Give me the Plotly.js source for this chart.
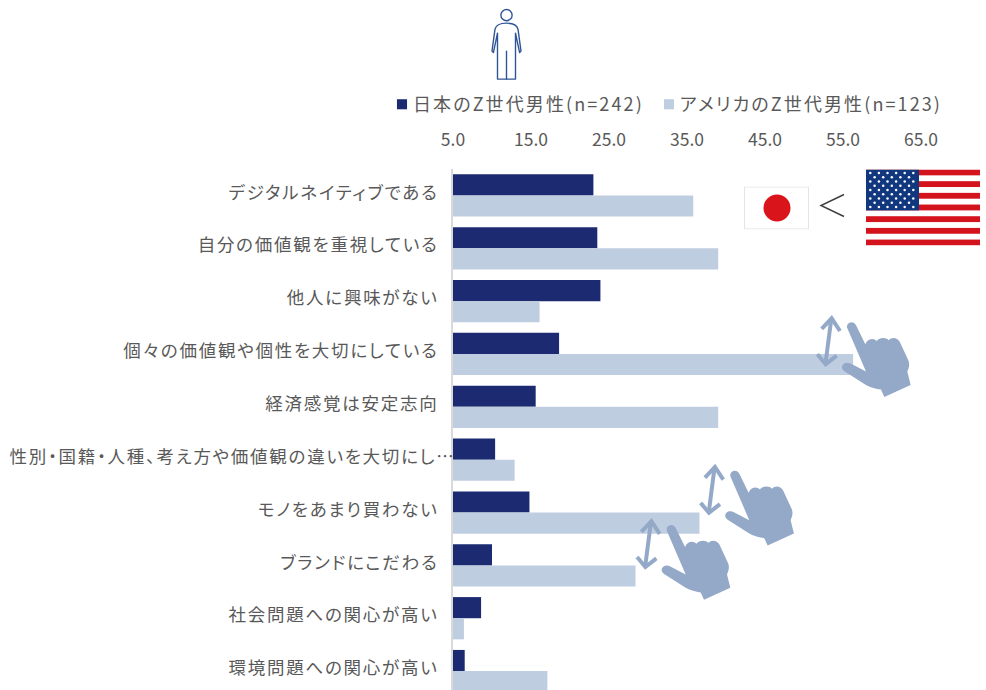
<!DOCTYPE html>
<html lang="ja">
<head>
<meta charset="utf-8">
<script src="https://cdn.plot.ly/plotly-3.0.1.min.js"></script>
<style>
  html, body { margin: 0; padding: 0; background: #fff; }
  #chart { width: 986px; height: 690px; }
  #chart .ytick text { letter-spacing: 1.75px; font-feature-settings: "palt"; }
  #chart .legendtext { letter-spacing: 2.1px; font-feature-settings: "palt"; }
  #chart .legendpoints path { transform: translate(29px, 0) scale(.84); stroke-width: 0 !important; }
  #chart .legend .scrollbox { clip-path: none; }
</style>
</head>
<body>
<div id="chart"></div>
<script>
// 項目と系列の値(%)
const categories = [
  'デジタルネイティブである',
  '自分の価値観を重視している',
  '他人に興味がない',
  '個々の価値観や個性を大切にしている',
  '経済感覚は安定志向',
  '性別・国籍・人種、考え方や価値観の違いを大切にし…',
  'モノをあまり買わない',
  'ブランドにこだわる',
  '社会問題への関心が高い',
  '環境問題への関心が高い'
];
const japanValues = [23.0, 23.5, 23.9, 18.6, 15.6, 10.4, 14.8, 10.0, 8.6, 6.5];
const usaValues   = [35.8, 39.0, 16.1, 56.3, 39.0, 12.9, 36.6, 28.4, 6.4, 17.1];
const japanName = '日本のZ世代男性(n=242)';
const usaName   = 'アメリカのZ世代男性(n=123)';

const W = 986, H = 690;
const M = { l: 453, r: 65, t: 168.5, b: 0 };
const plotW = W - M.l - M.r, plotH = H - M.t - M.b;
const px = x => (x - M.l) / plotW;
const py = y => (H - M.b - y) / plotH;
const uri = s => 'data:image/svg+xml;charset=utf-8,' + encodeURIComponent(s);

// 左上とサイズをピクセルで指定して装飾画像を置く
function place(svg, left, top, w, h) {
  return { source: uri(svg), xref: 'paper', yref: 'paper', x: px(left), y: py(top),
           sizex: w / plotW, sizey: h / plotH, xanchor: 'left', yanchor: 'top',
           sizing: 'stretch', layer: 'above' };
}

// 人物アイコン
const personSvg = `<svg xmlns="http://www.w3.org/2000/svg" viewBox="0 0 33 73" width="33" height="73">
  <g fill="none" stroke="#2f5597" stroke-width="1.4" stroke-linejoin="round" stroke-linecap="round">
    <circle cx="16.5" cy="7" r="5.6"/>
    <path d="M16.5 15 C11 15 6 17 5 21 L2 43 L3.4 44.5 L7.5 25 V71 H25.5 V25 L29.6 44.5 L31 43 L28 21 C27 17 22 15 16.5 15"/>
    <path d="M16.5 43 V71"/>
  </g></svg>`;

// 日の丸
const japanFlagSvg = `<svg xmlns="http://www.w3.org/2000/svg" viewBox="0 0 65 43" width="65" height="43">
  <rect x=".5" y=".5" width="64" height="42" fill="#fff" stroke="#e4e4e4"/>
  <circle cx="33" cy="21.5" r="13.5" fill="#d9141a"/></svg>`;

// 不等号
const lessThanSvg = `<svg xmlns="http://www.w3.org/2000/svg" viewBox="0 0 28 28" width="28" height="28">
  <path d="M26 3 L3 14 L26 25" fill="none" stroke="#404040" stroke-width="1.5"/></svg>`;

// 星条旗
function usFlagSvg() {
  let stripes = '', stars = '';
  const sh = 76 / 13;
  for (let i = 0; i < 13; i += 2) stripes += `<rect y="${i * sh}" width="114" height="${sh}" fill="#d3141c"/>`;
  for (let r = 0; r < 9; r++) {
    const n = r % 2 ? 5 : 6;
    for (let c = 0; c < n; c++) {
      const cx = (r % 2 ? 8.6 : 4.3) + c * 8.6, cy = 3.6 + r * 4.25;
      stars += `<circle cx="${cx}" cy="${cy}" r="1.25" fill="#fff"/>`;
    }
  }
  return `<svg xmlns="http://www.w3.org/2000/svg" viewBox="0 0 114 76" width="114" height="76">
    <rect width="114" height="76" fill="#fff"/>${stripes}
    <rect width="53" height="${7 * sh}" fill="#11387f"/>${stars}</svg>`;
}

// 指差しの手と上下矢印
const handSvg = `<svg xmlns="http://www.w3.org/2000/svg" viewBox="585 40 295 255" width="98.3" height="85">
  <g fill="none" stroke="#94a9c8" stroke-width="12">
    <path d="M633 62 L617 186"/>
    <path d="M605 86 L635 54 L660 92"/>
    <path d="M592 162 L617 192 L650 166"/>
  </g>
  <path fill="#94a9c8" d="M682 84 C676 68 700 56 709 76 L736 132 C742 114 762 112 770 122
    C778 110 800 110 806 120 C816 108 834 112 840 126 L866 182 C870 196 866 204 862 214 L872 254
    L793 290 L783 268 C768 266 752 262 738 254 L672 212 C656 198 674 180 692 190 L738 214 Z"/>
</svg>`;

const images = [
  place(personSvg, 490, 7.5, 33, 73),
  place(japanFlagSvg, 744, 186, 65, 43),
  place(lessThanSvg, 818, 191, 28, 28),
  place(usFlagSvg(), 866, 169, 114, 76),
  place(handSvg, 815, 313.3, 98.3, 85),
  place(handSvg, 815 - 116.7, 313.3 + 148.7, 98.3, 85),
  place(handSvg, 815 - 180.3, 313.3 + 203, 98.3, 85)
];

// 省略記号付きの長い項目以外は右に余白を取る
const tickLabels = categories.map(c => c.endsWith('…') ? c : c + '\u00a0\u00a0\u00a0');

const jpFont = '"Noto Sans CJK JP", "Noto Sans", sans-serif';
const textColor = '#595959';

const data = [
  { type: 'bar', orientation: 'h', name: japanName, y: categories, x: japanValues,
    base: 5, marker: { color: '#1b2a71' }, hoverinfo: 'skip' },
  { type: 'bar', orientation: 'h', name: usaName, y: categories, x: usaValues,
    base: 5, marker: { color: '#bfcde0' }, hoverinfo: 'skip' }
].map(t => ({ ...t, x: t.x.map(v => v - 5) }));

const layout = {
  width: W, height: H,
  margin: M,
  paper_bgcolor: '#fff', plot_bgcolor: '#fff',
  barmode: 'group', bargap: 0.2, bargroupgap: 0,
  font: { family: jpFont, color: textColor },
  xaxis: {
    side: 'top', range: [5, 65], tick0: 5, dtick: 10, tickformat: '.1f',
    showgrid: false, zeroline: false, showline: false, ticks: '',
    ticklabelstandoff: 19, tickfont: { size: 17.5, color: textColor, family: jpFont }
  },
  yaxis: {
    type: 'category', categoryorder: 'array', categoryarray: categories,
    tickmode: 'array', tickvals: categories, ticktext: tickLabels,
    range: [9.358, -0.5], showgrid: false, zeroline: false,
    showline: true, linecolor: '#d9d9d9', linewidth: 2, ticks: '',
    ticklabelstandoff: -8, ticklabelshift: 3,
    tickfont: { size: 17.5, color: textColor, family: jpFont }
  },
  legend: {
    orientation: 'h', traceorder: 'normal',
    x: px(373), y: py(104), xanchor: 'left', yanchor: 'middle',
    entrywidth: 222, entrywidthmode: 'pixels', itemclick: false, itemdoubleclick: false,
    font: { size: 18, color: textColor, family: jpFont }, bgcolor: 'rgba(0,0,0,0)'
  },
  images
};

Plotly.newPlot('chart', data, layout, { displayModeBar: false, staticPlot: true });
</script>
</body>
</html>
